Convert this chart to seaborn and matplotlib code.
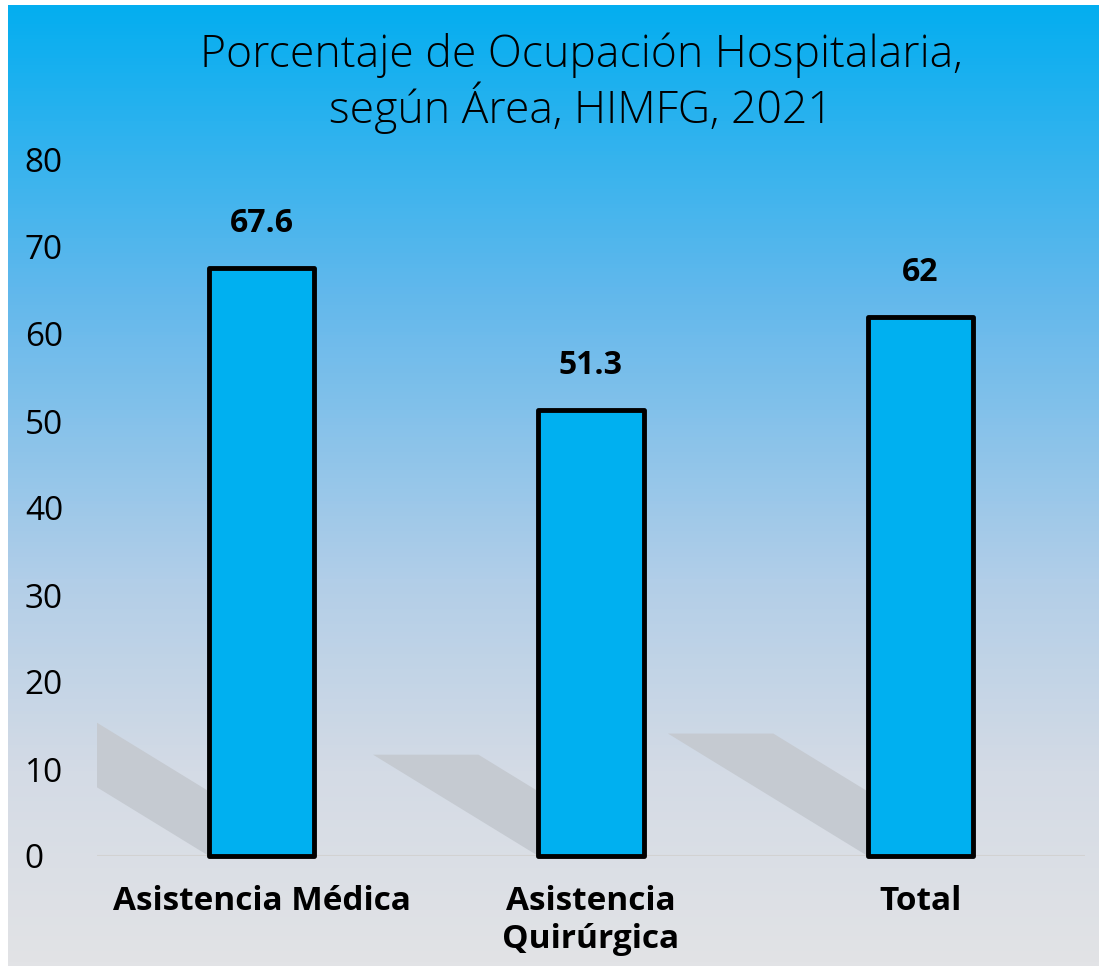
# Porcentaje de Ocupacion Hospitalaria - bar chart with gradient background

import numpy as np
import pandas as pd
import matplotlib.pyplot as plt
import seaborn as sns
from matplotlib.colors import LinearSegmentedColormap
from matplotlib.patches import Polygon


# Data
areas = ["Asistencia Médica", "Asistencia\nQuirúrgica", "Total"]
ocupacion = [67.6, 51.3, 62]
y_ticks = [0, 10, 20, 30, 40, 50, 60, 70, 80]
titulo = "Porcentaje de Ocupación Hospitalaria,\nsegún Área, HIMFG, 2021"

df = pd.DataFrame({"Area": areas, "Ocupacion": ocupacion})


# Style
sns.set_theme(style="white")
plt.rcParams["font.family"] = ["Open Sans", "DejaVu Sans"]

W, H = 1099, 966
fig = plt.figure(figsize=(W / 100, H / 100), dpi=100)
fig.patch.set_facecolor("white")


# Background gradient (blue at top -> light gray at bottom)
bg_cmap = LinearSegmentedColormap.from_list(
    "bg",
    [(0.0, "#04AEF0"), (0.3, "#62B8EC"), (0.6, "#B2CEE8"),
     (0.8, "#D4DBE5"), (1.0, "#E2E3E6")]
)
bg = fig.add_axes([8 / W, 0, 1 - 8 / W, 1 - 5 / H])
grad = np.linspace(0, 1, 256).reshape(-1, 1)
bg.imshow(grad, aspect="auto", cmap=bg_cmap, extent=[0, 1, 0, 1])
bg.axis("off")


# Main axes
ax = fig.add_axes([97 / W, (H - 856) / H, (1085 - 97) / W, (856 - 160) / H])
ax.patch.set_alpha(0)

bar_w = 0.32
sns.barplot(
    data=df,
    x="Area",
    y="Ocupacion",
    color="#00B0F0",
    saturation=1,
    edgecolor="black",
    linewidth=3.5,
    width=bar_w,
    ax=ax
)

for p in ax.patches:
    p.set_clip_on(False)
    p.set_joinstyle("round")
    p.set_zorder(3)

# Shadows behind bars (skewed, scaled copies of the bars)
for i, v in enumerate(ocupacion):
    h = 0.227 * v
    dx = 0.00978 * v
    half = bar_w / 2
    shadow = Polygon(
        [(i - half, 0), (i + half, 0), (i + half - dx, h), (i - half - dx, h)],
        closed=True,
        facecolor="#C5CAD1",
        edgecolor="none",
        zorder=1
    )
    ax.add_patch(shadow)

ax.axhline(0, color="#D2D2D2", linewidth=1.5, zorder=2)

ax.set_xlim(-0.5, 2.5)
ax.set_ylim(0, 80)
ax.set_yticks(y_ticks)
ax.set_xlabel("")
ax.set_ylabel("")
sns.despine(ax=ax, left=True, bottom=True)

# Value labels
ax.bar_label(
    ax.containers[0],
    labels=[f"{v:g}" for v in ocupacion],
    padding=20,
    fontsize=23,
    fontweight="bold",
    color="black"
)

# Ticks
ax.tick_params(axis="y", length=0, pad=52, labelsize=24, labelcolor="black")
for lbl in ax.get_yticklabels():
    lbl.set_horizontalalignment("left")

ax.tick_params(axis="x", length=0, pad=21, labelsize=24, labelcolor="black")
for lbl in ax.get_xticklabels():
    lbl.set_fontweight("bold")
    lbl.set_linespacing(1.2)

# Title
fig.text(
    581 / W, 1 - 32 / H,
    titulo,
    ha="center",
    va="top",
    fontsize=32,
    fontweight="light",
    linespacing=1.1,
    color="black"
)

plt.savefig("out.png", dpi=100)
